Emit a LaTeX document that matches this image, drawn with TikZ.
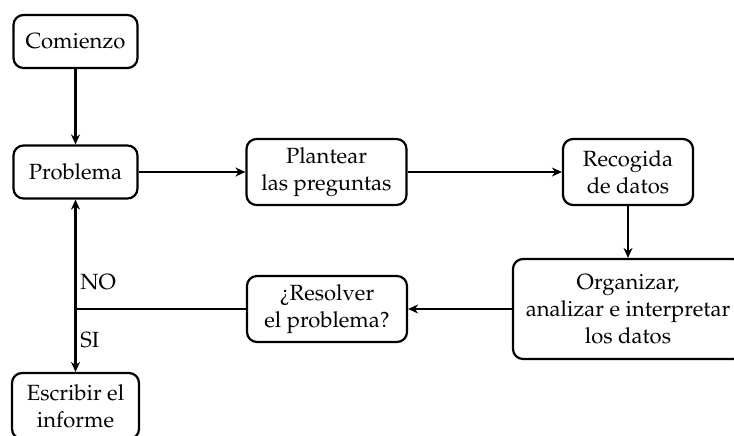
\documentclass[tikz,border=0pt]{standalone}
\IfFileExists{mathpazo.sty}
  {\usepackage[T1]{fontenc}\usepackage{mathpazo}}
  {\usepackage{fontspec}\setmainfont{Liberation Serif}}
\usetikzlibrary{arrows.meta}
\tikzset{
  box/.style={draw, rounded corners=5pt, line width=1.1pt, align=center,
    inner sep=1pt, font=\fontsize{11}{13.5}\selectfont},
  flow/.style={line width=1.1pt, -{Stealth[length=5pt,width=4.5pt]}},
  plain/.style={line width=1.1pt},
  tag/.style={anchor=west, inner sep=0pt, font=\fontsize{11}{12}\selectfont}
}
\begin{document}
\begin{tikzpicture}[x=0.5pt,y=-0.5pt]
\useasboundingbox (0,0) rectangle (734,435);
\node[box, minimum width=62pt, minimum height=26.5pt] (start) at (75.5,41.5) {Comienzo};
\node[box, minimum width=62pt, minimum height=26.5pt] (prob) at (75.5,172) {Problema};
\node[box, minimum width=80pt, minimum height=33pt] (ask) at (326.5,172) {Plantear\\las preguntas};
\node[box, minimum width=65pt, minimum height=33pt] (collect) at (628,172) {Recogida\\de datos};
\node[box, minimum width=115pt, minimum height=50pt] (analyze) at (628,309) {Organizar,\\analizar e interpretar\\los datos};
\node[box, minimum width=80pt, minimum height=33pt] (solve) at (327,309) {\textquestiondown Resolver\\el problema?};
\node[box, minimum width=63.5pt, minimum height=33pt] (report) at (75.5,406) {Escribir el\\informe};
\coordinate (split) at (75.5,309);

\draw[flow] (start) -- (prob);
\draw[flow] (prob) -- (ask);
\draw[flow] (ask) -- (collect);
\draw[flow] (collect) -- (analyze);
\draw[flow] (analyze) -- (solve);
\draw[plain] (solve) -- (split);
\draw[flow] (split) -- (prob);
\draw[flow] (split) -- (report);

\node[tag] (no) at (80,282) {NO};
\node[tag] (yes) at (80,340) {SI};
\end{tikzpicture}
\end{document}
